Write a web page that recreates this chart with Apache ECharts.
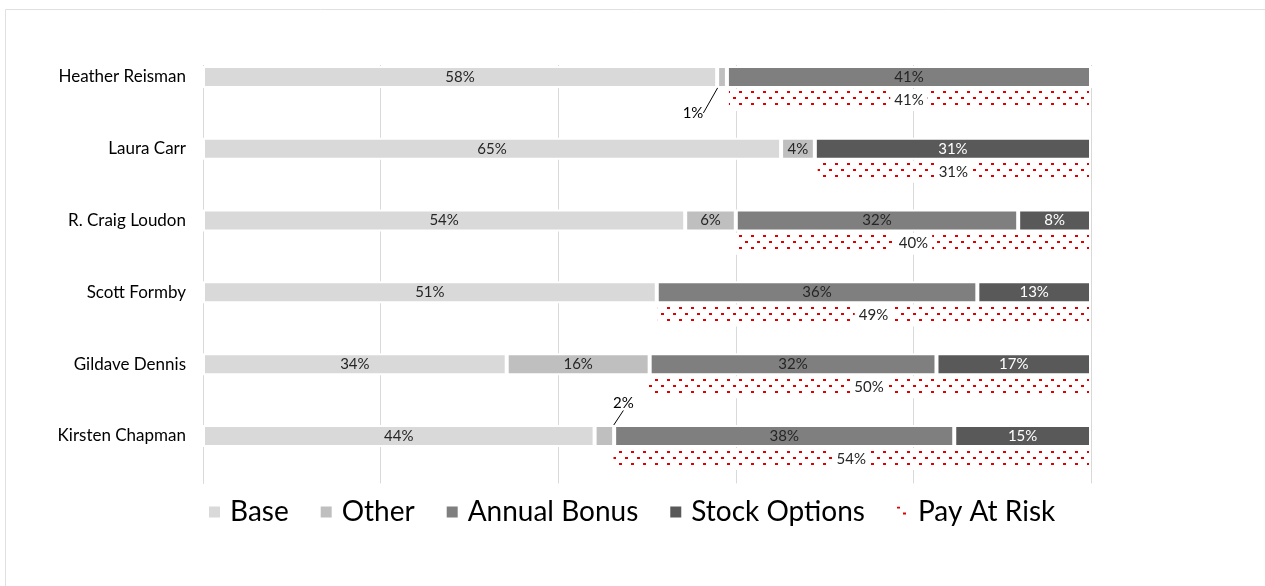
<!DOCTYPE html>
<html>
<head>
<meta charset="utf-8">
<script src="https://cdn.jsdelivr.net/npm/echarts@6/dist/echarts.min.js"></script>
<style>
html,body{margin:0;padding:0;background:#fff;}
#c{width:1265px;height:586px;}
</style>
</head>
<body>
<div id="c"></div>
<script>
const names = ['Heather Reisman','Laura Carr','R. Craig Loudon','Scott Formby','Gildave Dennis','Kirsten Chapman'];
const base = [57.9, 65.1, 54.3, 51.1, 34.2, 44.1];
const other = [1.1, 3.8, 5.7, 0, 16.1, 2.2];
const annualBonus = [41.0, 0, 31.8, 36.1, 32.3, 38.3];
const stockOptions = [0, 31.1, 8.2, 12.8, 17.4, 15.4];
const payAtRisk = [41, 31, 40, 49, 50, 54];
const calloutIdx = [0, 5];

const FONT = 'Lato';
const GRID_TOP = 52.6, GRID_BOTTOM = 102.6, GRID_LEFT = 203, GRID_RIGHT = 174;

// dotted red pattern
const pc = document.createElement('canvas');
pc.width = 12; pc.height = 12;
const pctx = pc.getContext('2d');
pctx.fillStyle = '#fff'; pctx.fillRect(0,0,12,12);
pctx.fillStyle = '#e00000';
pctx.fillRect(1,1,3,2);
pctx.fillRect(7,7,3,2);
const pattern = {image: pc, repeat: 'repeat'};

const pctFmt = p => (p.value > 0 ? Math.round(p.value) + '%' : '');
const offset = payAtRisk.map(v => 100 - v);

function mainSeries(name, data, color, labelColor, extra) {
  return Object.assign({
    name, type: 'bar', stack: 'pay', data, barWidth: 22, barGap: '5%',
    itemStyle: {color, borderColor: '#fff', borderWidth: 2},
    label: {show: true, position: 'inside', formatter: pctFmt, fontFamily: FONT, fontSize: 15, color: labelColor},
    emphasis: {disabled: true}
  }, extra || {});
}

const otherData = other.map((v, i) => calloutIdx.includes(i)
  ? {value: v, labelLine: {show: true, lineStyle: {color: '#000', width: 1}}, label: {color: '#000'}}
  : v);

const option = {
  animation: false,
  backgroundColor: '#fff',
  grid: {left: GRID_LEFT, right: GRID_RIGHT, top: GRID_TOP, bottom: GRID_BOTTOM, containLabel: false},
  xAxis: {
    type: 'value', min: 0, max: 100, interval: 20,
    axisLabel: {show: false}, axisTick: {show: false}, axisLine: {show: false},
    splitLine: {show: true, lineStyle: {color: '#d9d9d9', width: 1}}
  },
  yAxis: {
    type: 'category', data: names, inverse: true,
    axisTick: {show: false},
    axisLine: {show: true, lineStyle: {color: '#d9d9d9'}},
    axisLabel: {fontFamily: FONT, fontSize: 17, color: '#000', margin: 17, lineHeight: 23, verticalAlign: 'middle',
      formatter: v => v + '\n '}
  },
  legend: {
    data: ['Base', 'Other', 'Annual Bonus', 'Stock Options', 'Pay At Risk'],
    bottom: 55, left: 202, icon: 'rect', itemWidth: 13, itemHeight: 13, itemGap: 30,
    textStyle: {fontFamily: FONT, fontSize: 28, color: '#000', padding: [0, 0, 0, 4]}
  },
  graphic: [
    {type: 'rect', z: 1, silent: true, shape: {x: GRID_LEFT - 3, y: GRID_TOP - 1, width: 1265 - GRID_LEFT - GRID_RIGHT + 8, height: 66 - GRID_TOP}, style: {fill: '#fff'}},
    {type: 'rect', z: 10, silent: true, shape: {x: 5.5, y: 9.5, width: 1300, height: 620}, style: {fill: 'none', stroke: '#e0e0e0', lineWidth: 1}}
  ],
  series: [
    mainSeries('Base', base, '#d9d9d9', '#262626'),
    mainSeries('Other', otherData, '#bfbfbf', '#262626', {
      labelLayout: function (p) {
        if (p.dataIndex === 0) return {dx: -29, dy: 36};
        if (p.dataIndex === 5) return {dx: 19, dy: -33};
      }
    }),
    mainSeries('Annual Bonus', annualBonus, '#7f7f7f', '#262626'),
    mainSeries('Stock Options', stockOptions, '#595959', '#ffffff'),
    {
      name: 'offset', type: 'bar', stack: 'risk', data: offset, barWidth: 22,
      itemStyle: {color: 'transparent'}, silent: true, label: {show: false}, emphasis: {disabled: true}
    },
    {
      name: 'Pay At Risk', type: 'bar', stack: 'risk', data: payAtRisk, barWidth: 22,
      itemStyle: {color: pattern, borderColor: '#fff', borderWidth: 2},
      label: {show: true, position: 'inside', formatter: p => Math.round(p.value) + '%', fontFamily: FONT, fontSize: 15, color: '#262626', backgroundColor: '#fff', padding: [2, 4]},
      emphasis: {disabled: true}
    }
  ]
};

const chart = echarts.init(document.getElementById('c'), null, {renderer: 'canvas'});
chart.setOption(option);
</script>
</body>
</html>
